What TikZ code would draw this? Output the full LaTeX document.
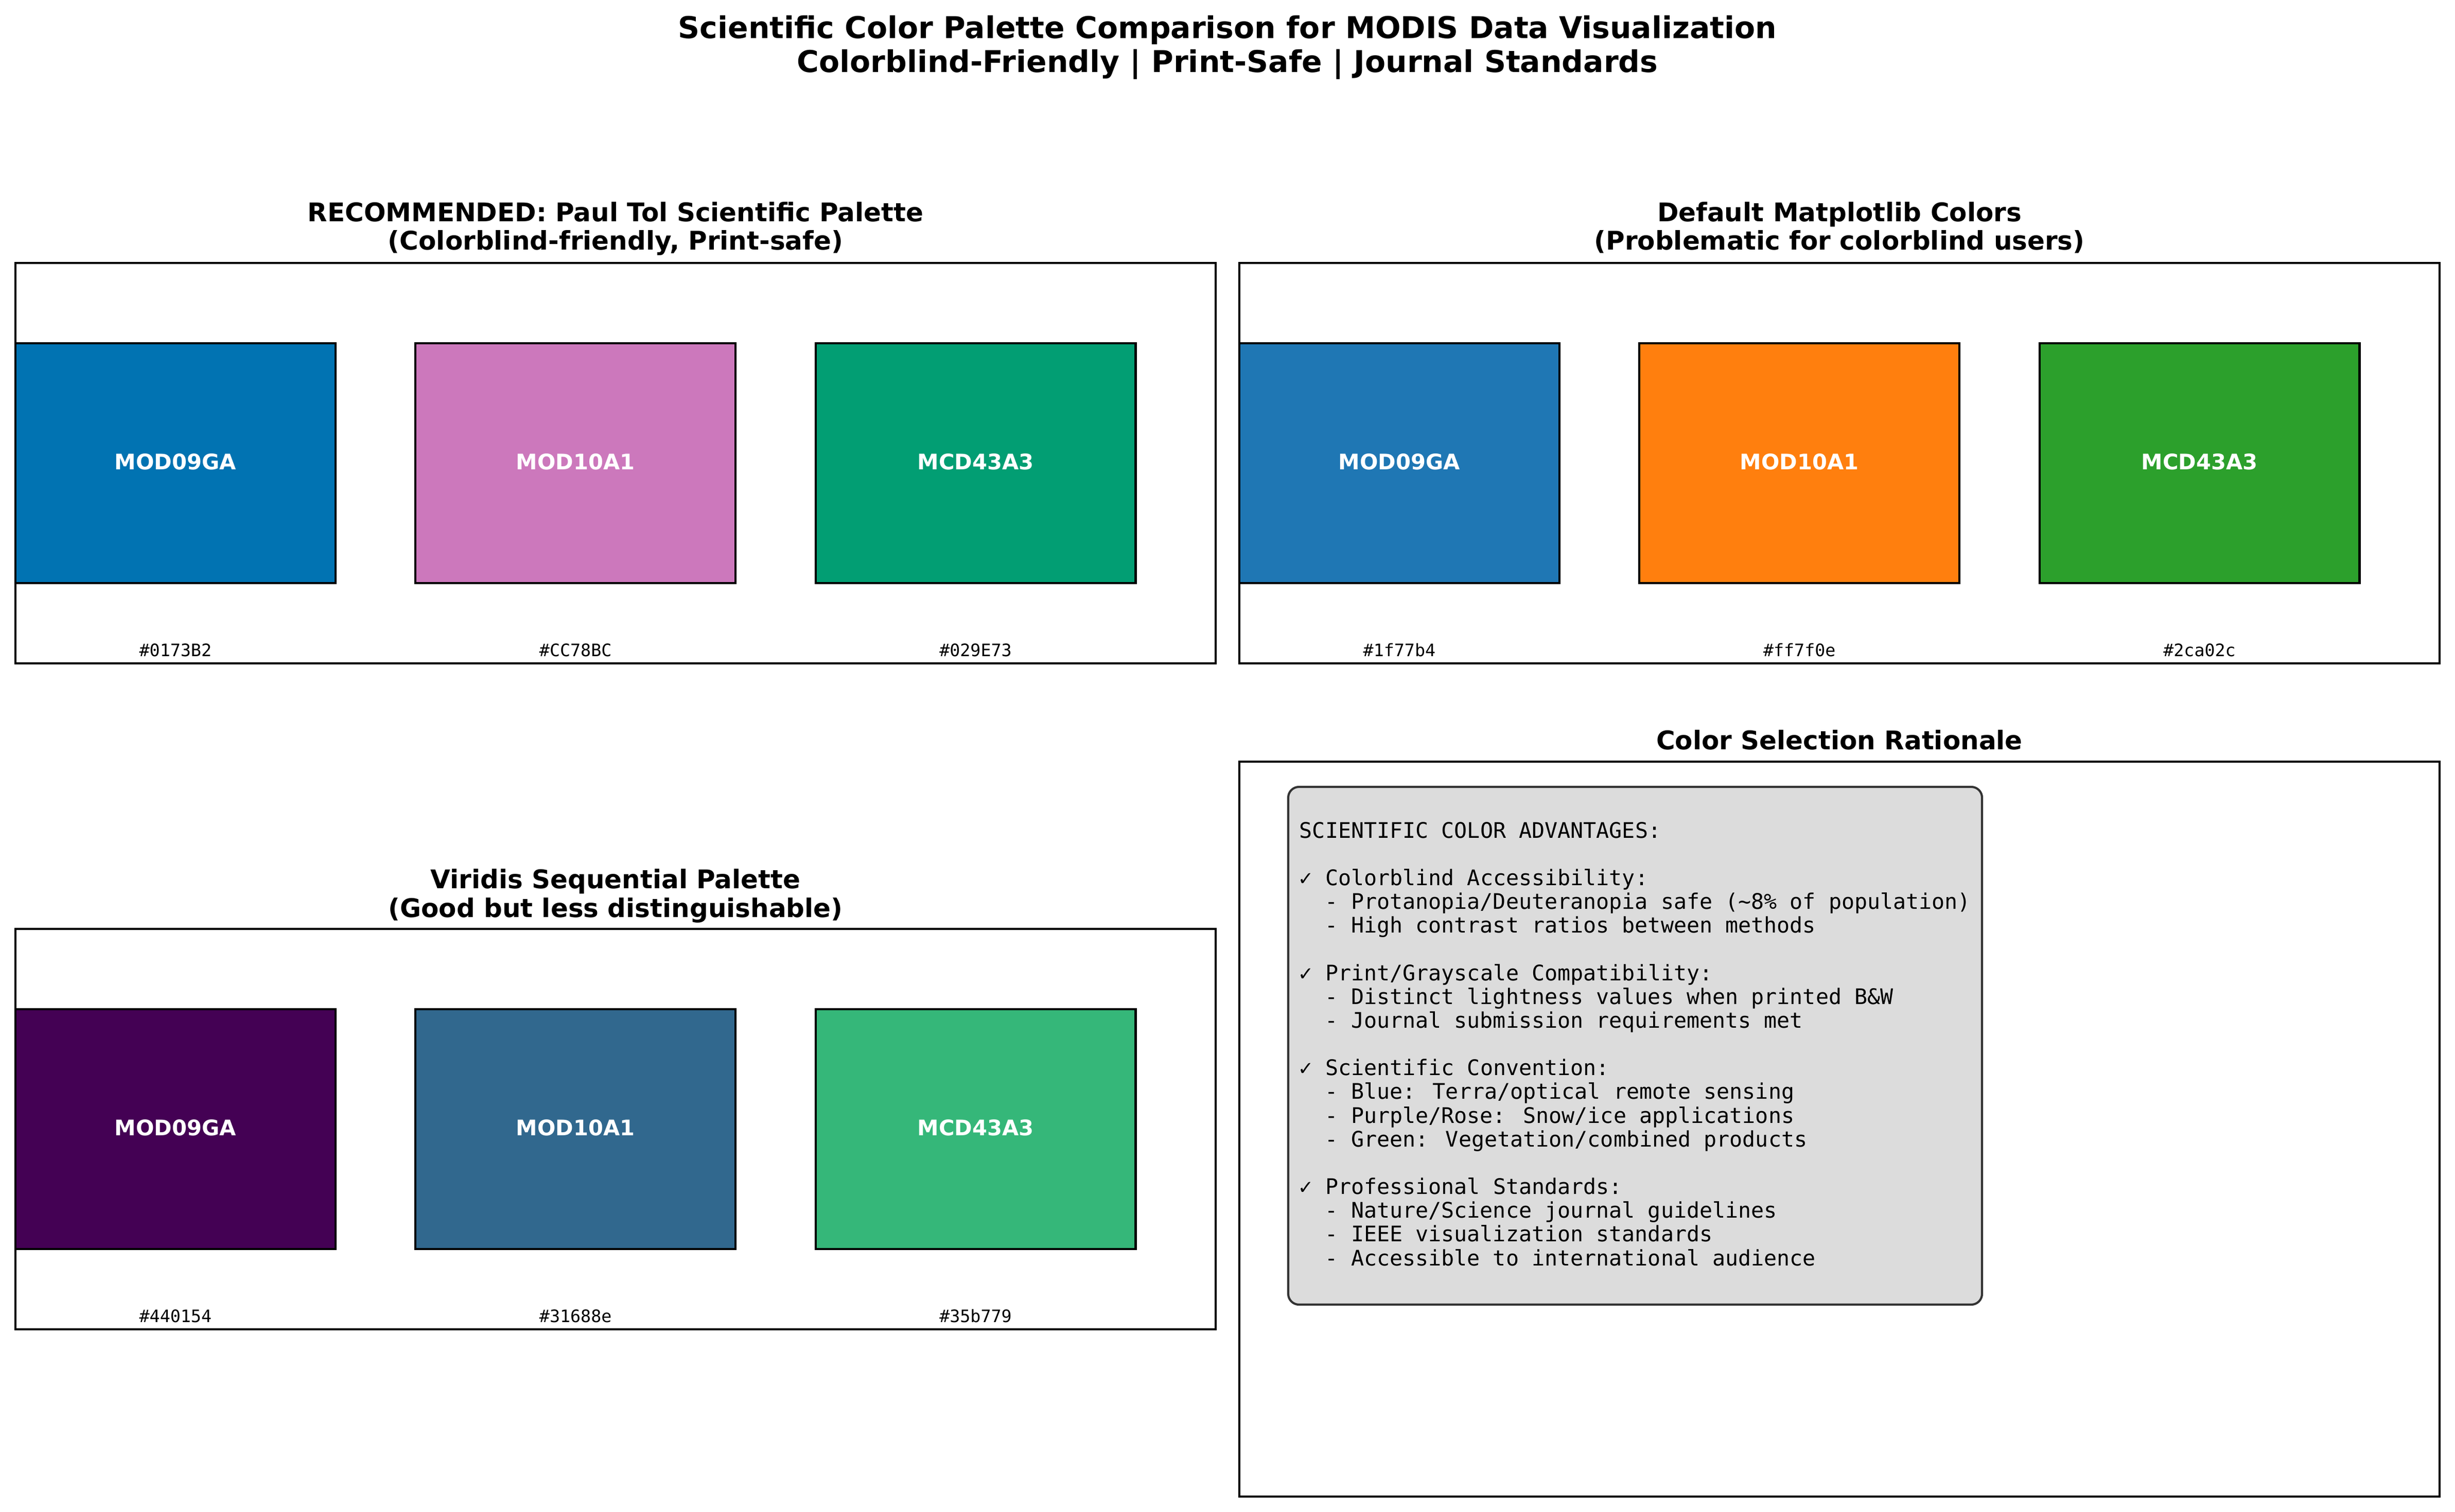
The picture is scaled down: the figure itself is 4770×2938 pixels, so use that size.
\documentclass[tikz,border=0pt]{standalone}
\usepackage{fontspec}
\setmainfont{DejaVu Sans}
\newfontfamily\monofont{DejaVu Sans Mono}
\definecolor{tolA}{HTML}{0173B2}
\definecolor{tolB}{HTML}{CC78BC}
\definecolor{tolC}{HTML}{029E73}
\definecolor{mplA}{HTML}{1F77B4}
\definecolor{mplB}{HTML}{FF7F0E}
\definecolor{mplC}{HTML}{2CA02C}
\definecolor{virA}{HTML}{440154}
\definecolor{virB}{HTML}{31688E}
\definecolor{virC}{HTML}{35B779}
\definecolor{boxfill}{HTML}{DCDCDC}
\definecolor{boxedge}{HTML}{333333}
\tikzset{
  frame/.style={draw=black, line width=0.8pt},
  swatch/.style={draw=black, line width=1pt},
  swlabel/.style={font=\fontsize{10}{12}\selectfont\bfseries, text=white, anchor=base, inner sep=0pt},
  hexlabel/.style={font=\monofont\fontsize{8}{10}\selectfont, anchor=base, inner sep=0pt},
  ptitle/.style={font=\fontsize{12}{14}\selectfont\bfseries, anchor=base, inner sep=0pt},
  mtitle/.style={font=\fontsize{14}{17}\selectfont\bfseries, anchor=base, inner sep=0pt},
  boxtext/.style={font=\monofont\fontsize{10}{12}\selectfont, anchor=base west, inner sep=0pt},
  ratbox/.style={draw=boxedge, fill=boxfill, line width=1pt, rounded corners=5pt}
}
\newcommand\mkpalette[9]{%
  \foreach \i/\col/\hx/\nm in {0/#4/#7/MOD09GA,1/#5/#8/MOD10A1,2/#6/#9/MCD43A3}{%
    \pgfmathsetmacro\xl{#2+777.3*\i}%
    \pgfmathsetmacro\xc{\xl+310.9}%
    \draw[swatch, fill=\col] (\xl,{#3+156}) rectangle ({\xl+621.9},{#3+622});
    \node[swlabel] (#1-lab\i) at (\xc,{#3+401}) {\nm};
    \node[hexlabel] (#1-hex\i) at (\xc,{#3+764}) {\hx};
  }%
  \draw[frame] (#2,#3) rectangle ({#2+2332},{#3+778});
}
\begin{document}
\begin{tikzpicture}[x=0.24pt,y=-0.24pt]
\useasboundingbox (0,0) rectangle (4770,2938);
\fill[white] (0,0) rectangle (4770,2938);
% main title
\node[mtitle] (t1) at (2385,75) {Scientific Color Palette Comparison for MODIS Data Visualization};
\node[mtitle] (t2) at (2385,141) {Colorblind-Friendly | Print-Safe | Journal Standards};
% panel titles
\node[ptitle] (tl1) at (1196,431) {RECOMMENDED: Paul Tol Scientific Palette};
\node[ptitle] (tl2) at (1196,486) {(Colorblind-friendly, Print-safe)};
\node[ptitle] (tr1) at (3574,431) {Default Matplotlib Colors};
\node[ptitle] (tr2) at (3574,486) {(Problematic for colorblind users)};
\node[ptitle] (bl1) at (1196,1726) {Viridis Sequential Palette};
\node[ptitle] (bl2) at (1196,1782) {(Good but less distinguishable)};
\node[ptitle] (br1) at (3574,1456) {Color Selection Rationale};
% palettes
\mkpalette{tol}{30}{511}{tolA}{tolB}{tolC}{\#0173B2}{\#CC78BC}{\#029E73}
\mkpalette{mpl}{2408}{511}{mplA}{mplB}{mplC}{\#1f77b4}{\#ff7f0e}{\#2ca02c}
\mkpalette{vir}{30}{1805}{virA}{virB}{virC}{\#440154}{\#31688e}{\#35b779}
% rationale panel
\draw[frame] (2408,1480) rectangle (4740,2908);
\draw[ratbox] (2503,1529) rectangle (3851,2535);
\node[boxtext] (r0) at (2524,1628.0) {SCIENTIFIC COLOR ADVANTAGES:};
\node[boxtext] (r2) at (2524,1720.3) {✓ Colorblind Accessibility:};
\node[boxtext] (r3) at (2574,1766.5) {- Protanopia/Deuteranopia safe (\textasciitilde 8\% of population)};
\node[boxtext] (r4) at (2574,1812.7) {- High contrast ratios between methods};
\node[boxtext] (r6) at (2524,1905.0) {✓ Print/Grayscale Compatibility:};
\node[boxtext] (r7) at (2574,1951.2) {- Distinct lightness values when printed B\&W};
\node[boxtext] (r8) at (2574,1997.4) {- Journal submission requirements met};
\node[boxtext] (r10) at (2524,2089.7) {✓ Scientific Convention:};
\node[boxtext] (r11) at (2574,2135.9) {- Blue: Terra/optical remote sensing};
\node[boxtext] (r12) at (2574,2182.0) {- Purple/Rose: Snow/ice applications};
\node[boxtext] (r13) at (2574,2228.2) {- Green: Vegetation/combined products};
\node[boxtext] (r15) at (2524,2320.6) {✓ Professional Standards:};
\node[boxtext] (r16) at (2574,2366.7) {- Nature/Science journal guidelines};
\node[boxtext] (r17) at (2574,2412.9) {- IEEE visualization standards};
\node[boxtext] (r18) at (2574,2459.1) {- Accessible to international audience};
\end{tikzpicture}
\end{document}
